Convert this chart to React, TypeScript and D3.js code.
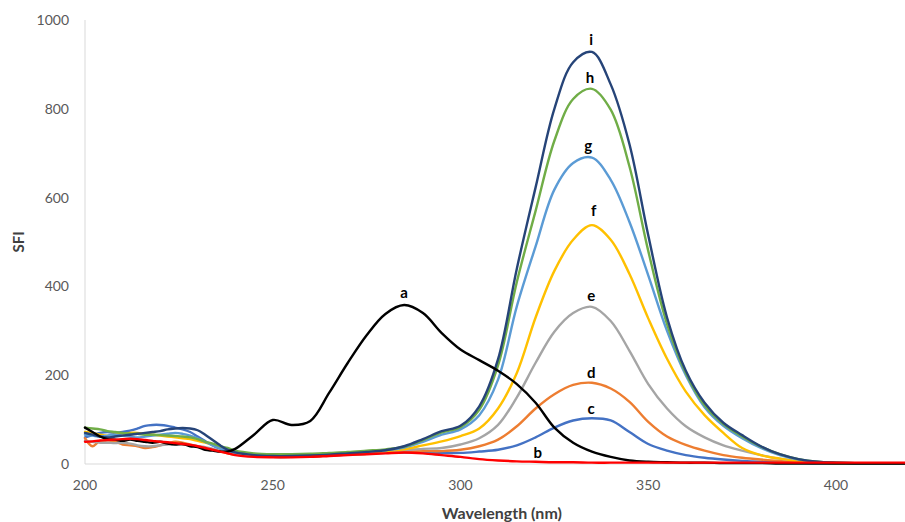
import React from 'react';
import * as d3 from 'd3';

// wavelength grid (nm): 2 nm steps in the noisy start, then 5 nm
const wavelengths = [
  200, 202, 204, 206, 208, 210, 212, 214, 216, 218, 220, 222, 224, 226, 228, 230, 232, 234, 236, 238, 240,
  245, 250, 255, 260, 265, 270, 275, 280, 285, 290, 295, 300, 305, 310, 315, 320, 325, 330, 335, 340,
  345, 350, 355, 360, 365, 370, 375, 380, 385, 390, 395, 400, 405, 410, 415, 420,
];

const seriesA = [
  82, 72, 62, 56, 55, 52, 55, 52, 50, 48, 50, 46, 44, 45, 40, 38, 32, 30, 28, 28, 34,
  66, 99, 88, 97, 160, 228, 290, 338, 358, 340, 295, 258, 234, 210, 180, 138, 82, 48, 28, 16,
  8, 5, 4, 3, 3, 2, 2, 2, 1, 1, 1, 1, 1, 1, 1, 1,
];
const seriesB = [
  50, 51, 53, 54, 55, 56, 57, 56, 54, 52, 50, 49, 47, 45, 43, 40, 36, 32, 28, 24, 20,
  16, 15, 15, 16, 18, 20, 22, 24, 26, 24, 20, 16, 11, 8, 6, 5, 4, 4, 3, 3,
  3, 3, 3, 3, 3, 3, 3, 3, 3, 3, 3, 3, 3, 3, 3, 3,
];
const seriesC = [
  60, 65, 70, 72, 70, 72, 75, 80, 86, 88, 88, 86, 82, 78, 72, 62, 52, 42, 34, 28, 24,
  18, 16, 16, 17, 19, 21, 23, 25, 26, 26, 25, 25, 28, 32, 42, 60, 82, 98, 103, 98,
  72, 45, 30, 20, 14, 10, 7, 5, 4, 3, 2, 2, 2, 2, 2, 2,
];
const seriesD = [
  58, 40, 52, 48, 50, 44, 42, 40, 36, 38, 42, 46, 50, 48, 44, 40, 36, 32, 28, 24, 21,
  18, 16, 16, 17, 19, 21, 23, 26, 28, 29, 29, 32, 40, 55, 85, 125, 157, 178, 183, 170,
  140, 95, 62, 43, 30, 20, 14, 10, 7, 5, 3, 2, 2, 2, 2, 2,
];
const seriesE = [
  52, 50, 48, 48, 47, 48, 46, 42, 40, 40, 42, 44, 46, 44, 42, 40, 38, 34, 30, 26, 22,
  18, 16, 16, 17, 19, 22, 25, 28, 31, 34, 36, 44, 58, 88, 150, 228, 298, 340, 354, 322,
  255, 180, 125, 85, 60, 42, 30, 20, 12, 7, 4, 2, 2, 2, 2, 2,
];
const seriesF = [
  72, 70, 66, 64, 66, 68, 70, 70, 68, 66, 64, 62, 60, 58, 56, 52, 48, 44, 38, 32, 27,
  20, 17, 17, 18, 20, 23, 26, 29, 33, 42, 51, 63, 80, 125, 205, 330, 435, 505, 538, 505,
  428, 328, 237, 163, 110, 70, 36, 20, 12, 6, 3, 2, 2, 2, 2, 2,
];
const seriesG = [
  66, 64, 62, 64, 66, 64, 62, 60, 62, 64, 66, 68, 70, 68, 64, 58, 50, 42, 35, 30, 26,
  20, 18, 18, 19, 21, 24, 27, 31, 37, 50, 66, 78, 110, 190, 355, 490, 618, 678, 690, 640,
  545, 425, 300, 200, 128, 86, 58, 36, 20, 10, 5, 3, 2, 2, 2, 2,
];
const seriesH = [
  82, 80, 78, 74, 72, 70, 68, 68, 66, 66, 65, 64, 63, 62, 60, 56, 50, 46, 40, 36, 30,
  24, 22, 22, 23, 25, 27, 30, 33, 39, 54, 71, 83, 122, 222, 410, 570, 728, 822, 845, 798,
  670, 480, 315, 205, 132, 90, 62, 39, 22, 11, 5, 3, 2, 2, 2, 2,
];
const seriesI = [
  70, 66, 62, 60, 62, 64, 66, 68, 70, 72, 74, 78, 80, 81, 80, 76, 66, 54, 42, 32, 26,
  20, 18, 18, 19, 21, 24, 27, 31, 40, 56, 74, 86, 130, 236, 440, 623, 800, 905, 928, 855,
  720, 515, 330, 210, 138, 93, 65, 40, 22, 11, 5, 3, 2, 2, 2, 2,
];

const xTicks = [200, 250, 300, 350, 400];
const yTicks = [0, 200, 400, 600, 800, 1000];

// drawing order: last one ends on top
const series = [
  { id: 'c', values: seriesC, color: '#4472C4' },
  { id: 'd', values: seriesD, color: '#ED7D31' },
  { id: 'e', values: seriesE, color: '#A5A5A5' },
  { id: 'f', values: seriesF, color: '#FFC000' },
  { id: 'g', values: seriesG, color: '#5B9BD5' },
  { id: 'h', values: seriesH, color: '#70AD47' },
  { id: 'i', values: seriesI, color: '#264478' },
  { id: 'a', values: seriesA, color: '#000000' },
  { id: 'b', values: seriesB, color: '#FF0000' },
];

// curve letters, anchored at (wavelength, SFI) of the text baseline
const labels = [
  { id: 'a', wl: 285, v: 374 },
  { id: 'b', wl: 320.6, v: 13 },
  { id: 'c', wl: 334.8, v: 113 },
  { id: 'd', wl: 334.8, v: 194 },
  { id: 'e', wl: 334.8, v: 367 },
  { id: 'f', wl: 335.5, v: 559 },
  { id: 'g', wl: 334, v: 705 },
  { id: 'h', wl: 334.5, v: 858 },
  { id: 'i', wl: 334.8, v: 944 },
];

const W = 905;
const H = 522;
const font = 'Lato, "Open Sans", sans-serif';

export default function App() {
  const x = d3.scaleLinear().domain([200, 400]).range([85, 836]);
  const y = d3.scaleLinear().domain([0, 1000]).range([464, 20]);

  const line = d3.line<number>()
    .x((_, i) => x(wavelengths[i]))
    .y(d => y(d))
    .curve(d3.curveCatmullRom.alpha(0.5));

  const plotRight = x(422);

  return (
    <svg width={W} height={H} style={{ position: 'absolute', left: 0, top: 0, background: '#fff' }}>
      {/* axes */}
      <line x1={x(200)} x2={x(200)} y1={y(1000)} y2={y(0)} stroke="#D9D9D9" strokeWidth={1} />
      <line x1={x(200)} x2={W} y1={y(0)} y2={y(0)} stroke="#D9D9D9" strokeWidth={1} />

      {yTicks.map(t => (
        <text key={t} x={69} y={y(t)} dy="0.35em" textAnchor="end"
          fontFamily={font} fontSize={14} fill="#595959">{t}</text>
      ))}
      {xTicks.map(t => (
        <text key={t} x={x(t)} y={485} dy="0.35em" textAnchor="middle"
          fontFamily={font} fontSize={14} fill="#595959">{t}</text>
      ))}

      <text x={(x(200) + plotRight) / 2} y={519} textAnchor="middle"
        fontFamily={font} fontSize={16} fontWeight="bold" fill="#404040">Wavelength (nm)</text>
      <text transform={`translate(24, ${(y(0) + y(1000)) / 2}) rotate(-90)`} textAnchor="middle"
        fontFamily={font} fontSize={15} fontWeight="bold" fill="#404040">SFI</text>

      {series.map(s => (
        <path key={s.id} d={line(s.values) || ''} fill="none" stroke={s.color}
          strokeWidth={2.4} strokeLinejoin="round" strokeLinecap="round" />
      ))}

      {labels.map(l => (
        <text key={l.id} x={x(l.wl)} y={y(l.v)} textAnchor="middle"
          fontFamily={font} fontSize={15} fontWeight="bold" fill="#000">{l.id}</text>
      ))}
    </svg>
  );
}
